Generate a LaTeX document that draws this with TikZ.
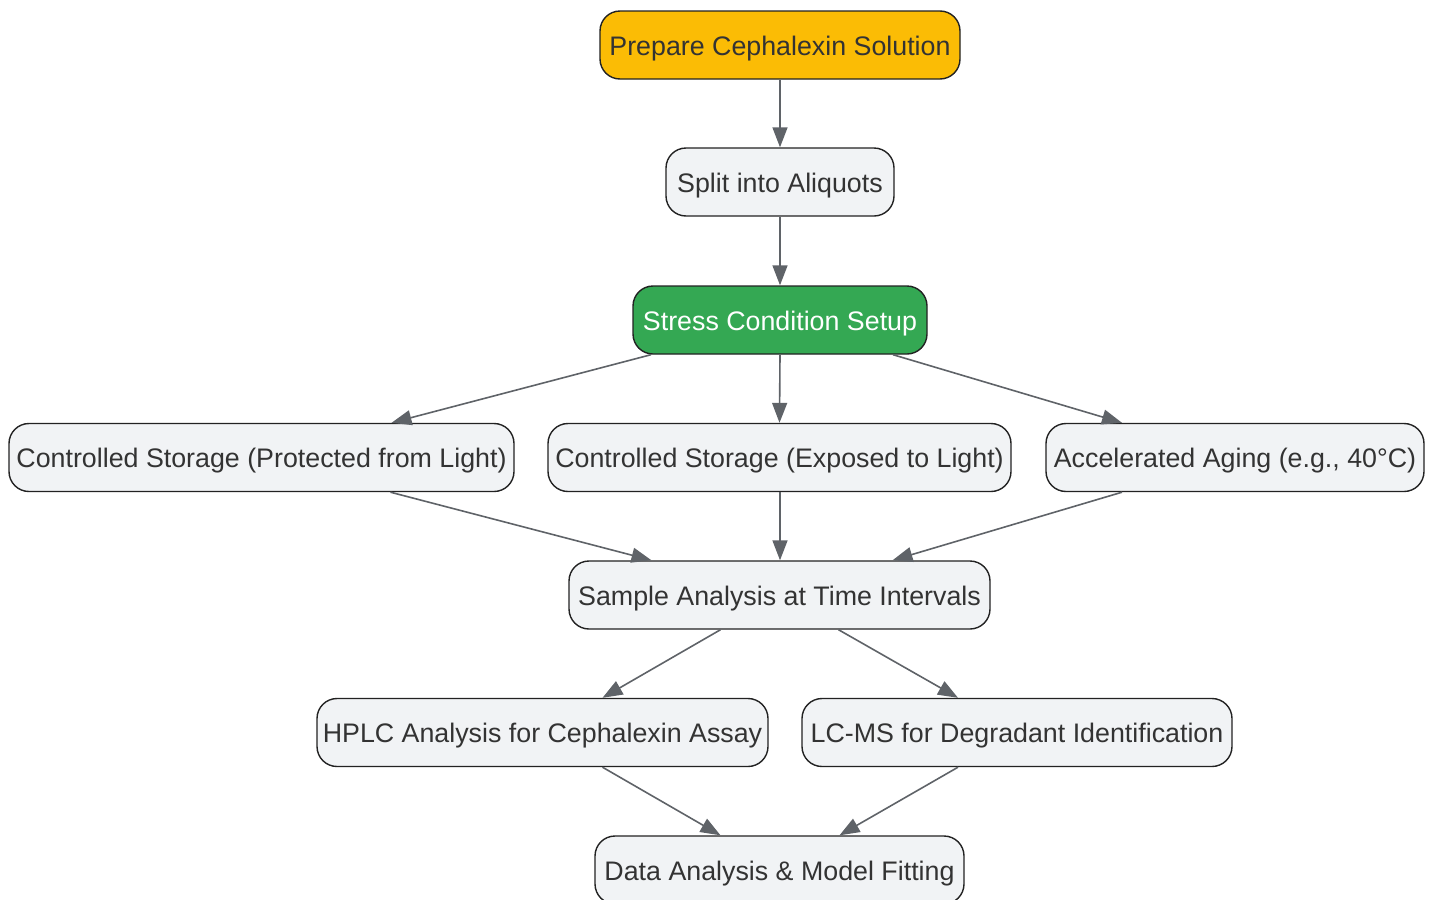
\documentclass[tikz,border=0pt]{standalone}
\usepackage{fontspec}
\setmainfont{Liberation Sans}
\usetikzlibrary{arrows.meta}
\definecolor{boxfill}{HTML}{F1F3F5}
\definecolor{boxline}{HTML}{222222}
\definecolor{txt}{HTML}{333333}
\definecolor{edge}{HTML}{5F6368}
\definecolor{yel}{HTML}{FBBC05}
\definecolor{grn}{HTML}{34A853}
\begin{document}
\begin{tikzpicture}[x=1pt,y=-1pt,
  box/.style={draw=boxline, line width=1.4pt, fill=boxfill, rounded corners=20pt,
    minimum height=68pt, inner xsep=4pt, text=txt, text height=22.5pt, text depth=2.3pt,
    font=\fontsize{26.8pt}{30pt}\selectfont},
  conn/.style={draw=edge, line width=1.6pt, -{Triangle[length=20pt,width=15pt]}}]
\useasboundingbox (0,0) rectangle (1436,900);
\node[box, fill=yel, minimum width=360pt] (prep) at (780,45) {Prepare Cephalexin Solution};
\node[box, minimum width=228pt] (split) at (780,182) {Split into Aliquots};
\node[box, fill=grn, text=white, minimum width=294pt] (stress) at (780,320) {Stress Condition Setup};
\node[box, minimum width=505pt] (csp) at (261.5,457.5) {Controlled Storage (Protected from Light)};
\node[box, minimum width=463pt] (cse) at (779.5,457.5) {Controlled Storage (Exposed to Light)};
\node[box, minimum width=378pt] (acc) at (1235,457.5) {Accelerated Aging (e.g., 40°C)};
\node[box, minimum width=421pt] (samp) at (779.5,595) {Sample Analysis at Time Intervals};
\node[box, minimum width=451pt] (hplc) at (542.5,732.5) {HPLC Analysis for Cephalexin Assay};
\node[box, minimum width=430pt] (lcms) at (1017,732.5) {LC-MS for Degradant Identification};
\node[box, minimum width=369pt] (data) at (779.5,870) {Data Analysis \& Model Fitting};

\draw[conn] (prep.south) -- (split.north);
\draw[conn] (split.south) -- (stress.north);
\draw[conn] ([xshift=-129pt]stress.south) -- ([xshift=130pt]csp.north);
\draw[conn] (stress.south) -- (cse.north);
\draw[conn] ([xshift=113pt]stress.south) -- ([xshift=-113pt]acc.north);
\draw[conn] ([xshift=129pt]csp.south) -- ([xshift=-128pt]samp.north);
\draw[conn] ([xshift=0.5pt]cse.south) -- ([xshift=0.5pt]samp.north);
\draw[conn] ([xshift=-113pt]acc.south) -- ([xshift=113pt]samp.north);
\draw[conn] ([xshift=-59pt]samp.south) -- ([xshift=60pt]hplc.north);
\draw[conn] ([xshift=59pt]samp.south) -- ([xshift=-59pt]lcms.north);
\draw[conn] ([xshift=60pt]hplc.south) -- ([xshift=-59pt]data.north);
\draw[conn] ([xshift=-59pt]lcms.south) -- ([xshift=60pt]data.north);
\end{tikzpicture}
\end{document}
